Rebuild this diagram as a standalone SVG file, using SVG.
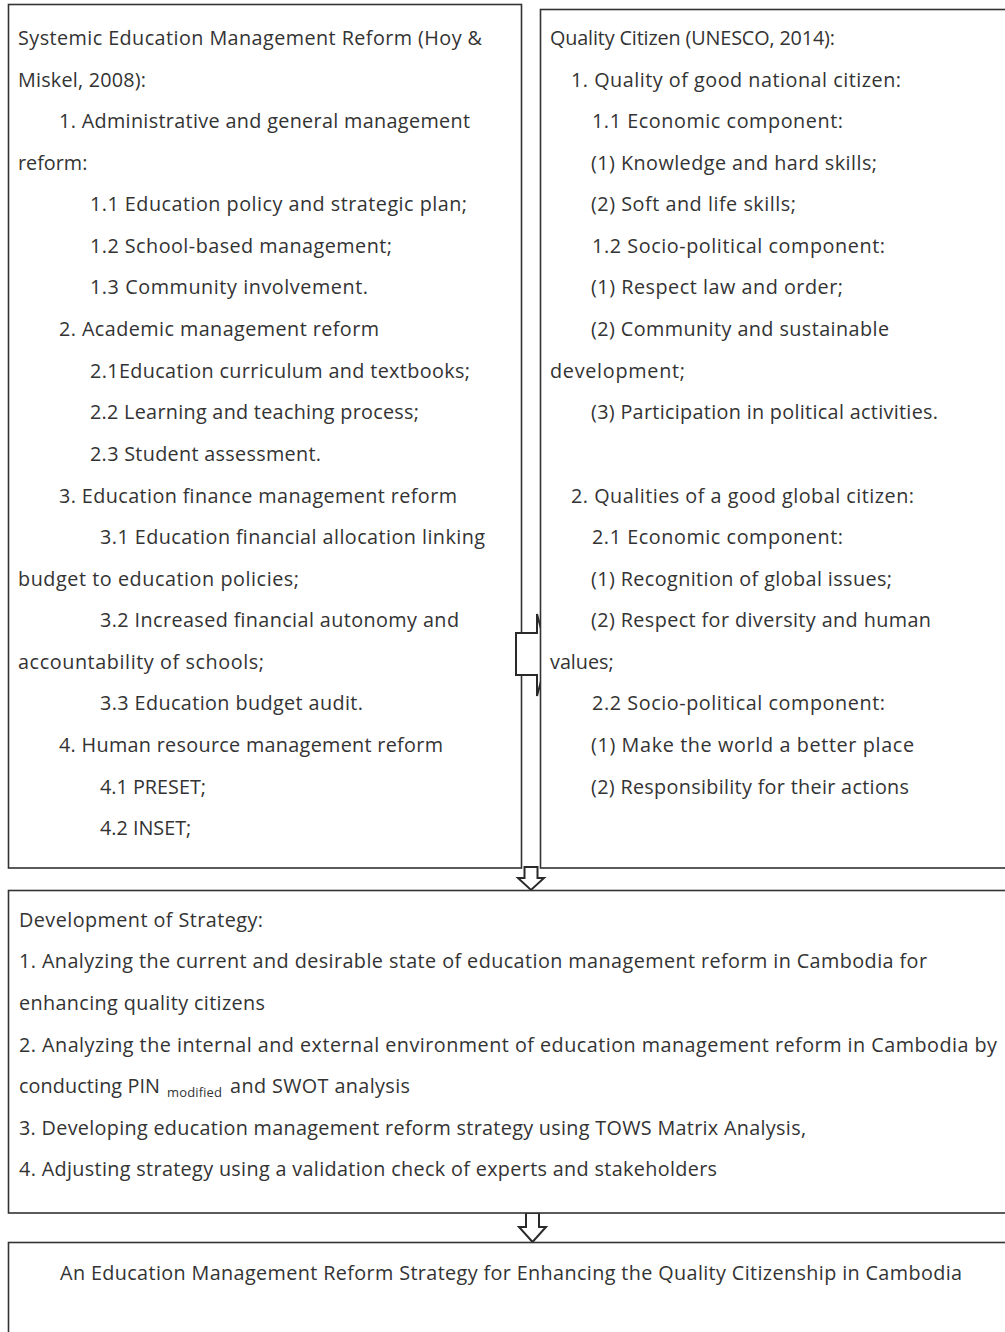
<svg xmlns="http://www.w3.org/2000/svg" width="1005" height="1332" viewBox="0 0 1005 1332">
<style>
.box{fill:#fff;stroke:#333;stroke-width:1.6}
.arr{fill:#fff;stroke:#2a2a2a;stroke-width:2;stroke-linejoin:miter}
text{font-family:"Open Sans","Noto Sans",sans-serif;font-size:19.8px;fill:#333}
.sub{font-size:13px}
</style>
<rect width="1005" height="1332" fill="#fff"/>
<g id="node-systemic">
<rect class="box" x="8.5" y="4.5" width="513" height="863.5"/>
</g>
<g id="connectors">
<polygon class="arr" points="516,633 537,633 537,614 548,655 537,696 537,675 516,675"/>
<polygon class="arr" points="524.5,867 537.5,867 537.5,878 544,878 531,890 518,878 524.5,878"/>
<polygon class="arr" points="526,1213 539,1213 539,1227 546,1227 532.5,1242 519,1227 526,1227"/>
</g>
<g id="node-quality">
<rect class="box" x="540.5" y="9.5" width="470" height="858.5"/>
</g>
<g id="node-systemic-text">
<text x="18" y="45" textLength="464">Systemic Education Management Reform (Hoy &amp;</text>
<text x="18" y="87" textLength="128">Miskel, 2008):</text>
<text x="59" y="128" textLength="411">1. Administrative and general management</text>
<text x="18" y="170">reform:</text>
<text x="90" y="211" textLength="377">1.1 Education policy and strategic plan;</text>
<text x="90" y="253" textLength="302">1.2 School-based management;</text>
<text x="90" y="294" textLength="278">1.3 Community involvement.</text>
<text x="59" y="336" textLength="320">2. Academic management reform</text>
<text x="90" y="378" textLength="380">2.1Education curriculum and textbooks;</text>
<text x="90" y="419" textLength="329">2.2 Learning and teaching process;</text>
<text x="90" y="461" textLength="231">2.3 Student assessment.</text>
<text x="59" y="503" textLength="398">3. Education finance management reform</text>
<text x="100" y="544" textLength="385">3.1 Education financial allocation linking</text>
<text x="18" y="586" textLength="281">budget to education policies;</text>
<text x="100" y="627" textLength="359">3.2 Increased financial autonomy and</text>
<text x="18" y="669" textLength="246">accountability of schools;</text>
<text x="100" y="710" textLength="263">3.3 Education budget audit.</text>
<text x="59" y="752" textLength="384">4. Human resource management reform</text>
<text x="100" y="794">4.1 PRESET;</text>
<text x="100" y="835">4.2 INSET;</text>
</g>
<g id="node-quality-text">
<text x="550" y="45" textLength="285">Quality Citizen (UNESCO, 2014):</text>
<text x="571" y="87" textLength="330">1. Quality of good national citizen:</text>
<text x="592" y="128" textLength="251">1.1 Economic component:</text>
<text x="591" y="170" textLength="286">(1) Knowledge and hard skills;</text>
<text x="591" y="211" textLength="205">(2) Soft and life skills;</text>
<text x="592" y="253" textLength="293">1.2 Socio-political component:</text>
<text x="591" y="294" textLength="252">(1) Respect law and order;</text>
<text x="591" y="336" textLength="298">(2) Community and sustainable</text>
<text x="550" y="378" textLength="135">development;</text>
<text x="591" y="419" textLength="347">(3) Participation in political activities.</text>
<text x="571" y="503" textLength="343">2. Qualities of a good global citizen:</text>
<text x="592" y="544" textLength="251">2.1 Economic component:</text>
<text x="591" y="586" textLength="301">(1) Recognition of global issues;</text>
<text x="591" y="627" textLength="340">(2) Respect for diversity and human</text>
<text x="550" y="669">values;</text>
<text x="592" y="710" textLength="293">2.2 Socio-political component:</text>
<text x="591" y="752" textLength="323">(1) Make the world a better place</text>
<text x="591" y="794" textLength="318">(2) Responsibility for their actions</text>
</g>
<g id="node-strategy">
<rect class="box" x="8.5" y="890.5" width="1002" height="322.5"/>
<text x="19" y="927" textLength="244">Development of Strategy:</text>
<text x="19" y="968" textLength="908">1. Analyzing the current and desirable state of education management reform in Cambodia for</text>
<text x="19" y="1010" textLength="246">enhancing quality citizens</text>
<text x="19" y="1052" textLength="978">2. Analyzing the internal and external environment of education management reform in Cambodia by</text>
<text y="1093"><tspan x="19" textLength="141">conducting PIN</tspan><tspan class="sub" x="167" dy="4" textLength="55">modified</tspan><tspan x="230" dy="-4" textLength="180">and SWOT analysis</tspan></text>
<text x="19" y="1135" textLength="787">3. Developing education management reform strategy using TOWS Matrix Analysis,</text>
<text x="19" y="1176" textLength="698">4. Adjusting strategy using a validation check of experts and stakeholders</text>
</g>
<g id="node-result">
<rect class="box" x="8.5" y="1242.5" width="1002" height="100"/>
<text x="60" y="1280" textLength="902">An Education Management Reform Strategy for Enhancing the Quality Citizenship in Cambodia</text>
</g>
</svg>
